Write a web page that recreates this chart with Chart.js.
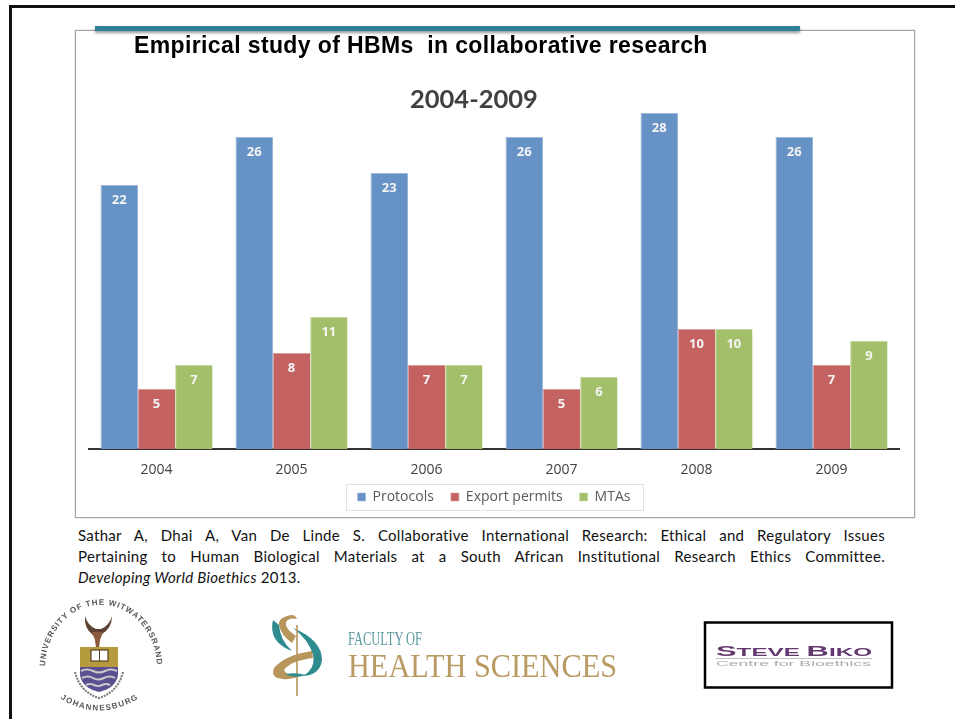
<!DOCTYPE html>
<html>
<head>
<meta charset="utf-8">
<script src="https://cdn.jsdelivr.net/npm/chart.js@4"></script>
<style>
  html, body { margin: 0; padding: 0; background: #fff; }
  body { width: 955px; height: 719px; position: relative; overflow: hidden; }
  .frame-top { position: absolute; left: 9px; top: 5px; width: 946px; height: 2.5px; background: #111; }
  .frame-left { position: absolute; left: 9px; top: 5px; width: 2.5px; height: 714px; background: #111; }
  #panel { position: absolute; left: 75px; top: 30px; width: 838px; height: 486px; border: 1px solid #a6a6a6; box-shadow: 0 0 1px #888; }
  canvas { display: block; }
  .rule { position: absolute; left: 95px; top: 26px; width: 705px; height: 5px; background: #2f8096; box-shadow: 0 2px 3px rgba(70,70,70,.55); }
  .title { position: absolute; left: 134px; top: 32px; font: bold 23px "Liberation Sans", sans-serif; letter-spacing: .38px; color: #000; white-space: nowrap; }
  .subtitle { position: absolute; left: 410px; top: 83px; font: bold 25.5px Lato, sans-serif; color: #404040; white-space: nowrap; }
  .cite { position: absolute; left: 78px; top: 525px; width: 807px; font: 15px/21px Lato, sans-serif; letter-spacing: .3px; color: #111; text-align: justify; }
  .cite span { display: block; text-align-last: justify; }
  .cite span:last-child { text-align-last: left; }
  svg { position: absolute; left: 0; top: 0; }
</style>
</head>
<body>
<div class="frame-top"></div>
<div class="frame-left"></div>
<div id="panel"><canvas id="chart" width="838" height="486"></canvas></div>
<div class="rule"></div>
<div class="title">Empirical study of HBMs&nbsp; in collaborative research</div>
<div class="subtitle">2004-2009</div>
<div class="cite">
  <span>Sathar A, Dhai A, Van De Linde S. Collaborative International Research: Ethical and Regulatory Issues</span>
  <span>Pertaining to Human Biological Materials at a South African Institutional Research Ethics Committee.</span>
  <span><i>Developing World Bioethics</i> 2013.</span>
</div>

<svg width="955" height="719" viewBox="0 0 955 719">
  <defs>
    <path id="arcTop" d="M45 668 A54 61 0 1 1 157 668"/>
    <path id="arcBottom" d="M58 697 Q98 724 141 697"/>
    <filter id="soft"><feGaussianBlur stdDeviation="0.4"/></filter>
  </defs>

  <!-- university crest -->
  <g filter="url(#soft)">
    <text font-family="Liberation Sans" font-weight="bold" font-size="8" fill="#555" letter-spacing=".95"><textPath href="#arcTop" startOffset="1%">UNIVERSITY OF THE WITWATERSRAND</textPath></text>
    <text font-family="Liberation Sans" font-weight="bold" font-size="8" fill="#555" letter-spacing="1.3"><textPath href="#arcBottom" startOffset="3%">JOHANNESBURG</textPath></text>
    <path d="M85 616 Q84 628 92 634 L97 640 L102 634 Q112 628 112 616 Q109 626 101 629 L96 629 Q88 626 85 616Z" fill="#5b4331"/>
    <path d="M92 632 h11 l-3 8 l-1 8 h-3 l-1 -8z" fill="#8a5a3c"/>
    <path d="M80 647 H118 V668 H80Z" fill="#b59b3c"/>
    <rect x="91" y="650" width="17" height="11" fill="#fff" stroke="#5a4020" stroke-width="1.2"/>
    <path d="M99.5 650 v11" stroke="#5a4020" stroke-width="1"/>
    <path d="M80 667 H118 V675 Q116 688 99 692 Q82 688 80 675Z" fill="#5a4f91"/>
    <path d="M81 671 q6 -3 12 0 t12 0 t12 0 M82 678 q6 -3 11 0 t11 0 t11 0 M86 685 q4 -2 8 0 t8 0 t8 0" fill="none" stroke="#c9c9c9" stroke-width="2"/>
    <path d="M75 672 Q80 692 99 698 Q118 692 123 672" fill="none" stroke="#777" stroke-width="2" stroke-dasharray="2 1"/>
  </g>

  <!-- health sciences mark -->
  <g filter="url(#soft)">
    <path d="M292 615 Q278 617 279 625 Q281 635 292 643 L296 636 Q284 628 286 622 Q289 617 297 619 Q295 615 292 615Z" fill="#b8955a"/>
    <path d="M273 620 Q268 642 292 651 Q280 640 279 625Z" fill="#2e8b8e"/>
    <path d="M293 628 Q322 640 322 660 Q320 675 303 676 Q316 668 313 655 Q309 640 293 628Z" fill="#2e8b8e"/>
    <path d="M312 651 Q285 655 274 668 Q270 678 283 679 Q292 680 300 676 Q286 676 284 670 Q290 661 313 658Z" fill="#b8955a"/>
    <path d="M297 625 V696" stroke="#b8955a" stroke-width="1.6"/>
    <path d="M285 674 Q296 672 306 675 Q296 679 285 674Z" fill="#2e8b8e"/>
    <text x="348" y="645" font-family="Liberation Serif" font-size="19" fill="#5f9aa0" textLength="74" lengthAdjust="spacingAndGlyphs">FACULTY OF</text>
    <text x="348" y="677" font-family="Liberation Serif" font-size="33" fill="#b99a63" textLength="269" lengthAdjust="spacingAndGlyphs">HEALTH SCIENCES</text>
  </g>

  <!-- bioethics box -->
  <rect x="705" y="622.5" width="187" height="65" fill="#fff" stroke="#000" stroke-width="2.5"/>
  <g filter="url(#soft)">
    <text x="716" y="656" font-family="Liberation Sans" font-weight="bold" font-size="11" fill="#64386f" textLength="156" lengthAdjust="spacingAndGlyphs"><tspan font-size="14">S</tspan>TEVE <tspan font-size="14">B</tspan>IKO</text>
    <path d="M716 658.5 H872" stroke="#b7c4c4" stroke-width="1"/>
    <text x="716" y="666" font-family="Liberation Sans" font-size="7.5" fill="#aaa" textLength="155" lengthAdjust="spacingAndGlyphs">Centre for Bioethics</text>
  </g>
</svg>

<script>
const years = ["2004", "2005", "2006", "2007", "2008", "2009"];
const protocols = [22, 26, 23, 26, 28, 26];
const exportPermits = [5, 8, 7, 5, 10, 7];
const mtas = [7, 11, 7, 6, 10, 9];

// white numbers just under the top of every bar
const barLabels = {
  id: "barLabels",
  afterDatasetsDraw(chart) {
    const ctx = chart.ctx;
    ctx.save();
    ctx.font = "bold 13px 'Open Sans', sans-serif";
    ctx.textAlign = "center";
    ctx.textBaseline = "middle";
    chart.data.datasets.forEach((ds, i) => {
      chart.getDatasetMeta(i).data.forEach((bar, j) => {
        ctx.fillStyle = "#f4f4f4";
        ctx.fillText(ds.data[j], bar.x, bar.y + 15);
      });
    });
    ctx.restore();
  }
};

// legend gets wide gaps but must not take that much height
const legendBox = {
  id: "legendBox",
  beforeInit(chart) {
    const fit = chart.legend.fit;
    chart.legend.fit = function () {
      fit.call(this);
      this.height = 26;
    };
  },
  beforeDraw(chart) {
    // the squeezed boxes would clip their own text, so open them again for drawing
    chart.scales.x.bottom += 20;
    chart.legend.bottom += 30;

    const hits = chart.legend.legendHitBoxes;
    const last = hits[hits.length - 1];
    const mid = hits[0].top + hits[0].height / 2;
    const ctx = chart.ctx;
    ctx.save();
    ctx.strokeStyle = "#e2e2e2";
    ctx.lineWidth = 1;
    ctx.strokeRect(Math.round(hits[0].left - 12) + 0.5, Math.round(mid - 13) + 0.5, Math.round(last.left + last.width - hits[0].left + 24), 26);
    ctx.restore();
  }
};

new Chart(document.getElementById("chart").getContext("2d"), {
  type: "bar",
  data: {
    labels: years,
    datasets: [
      { label: "Protocols", data: protocols, backgroundColor: "#6692c6", borderColor: "#9db8d8", borderWidth: { top: 1, left: 1, right: 0 } },
      { label: "Export permits", data: exportPermits, backgroundColor: "#c46261", borderColor: "#d99c9b", borderWidth: { top: 1, left: 1, right: 0 } },
      { label: "MTAs", data: mtas, backgroundColor: "#a4bf69", borderColor: "#c5d6a2", borderWidth: { top: 1, left: 1, right: 0 } }
    ]
  },
  options: {
    responsive: false,
    animation: false,
    layout: { padding: { left: 13, right: 15, top: 82, bottom: 18 } },
    datasets: { bar: { categoryPercentage: 0.83, barPercentage: 1 } },
    scales: {
      x: {
        grid: { display: false },
        border: { color: "#333", width: 2 },
        ticks: { color: "#404040", font: { family: "'Open Sans', sans-serif", size: 14 }, padding: 5 },
        afterFit(scale) { scale.height = 24; }
      },
      y: { display: false, min: 0, max: 28 }
    },
    plugins: {
      tooltip: { enabled: false },
      legend: {
        position: "bottom",
        labels: {
          boxWidth: 8, boxHeight: 8, padding: 17,
          color: "#595959",
          font: { family: "'Open Sans', sans-serif", size: 14 }
        }
      }
    }
  },
  plugins: [barLabels, legendBox]
});
</script>
</body>
</html>
